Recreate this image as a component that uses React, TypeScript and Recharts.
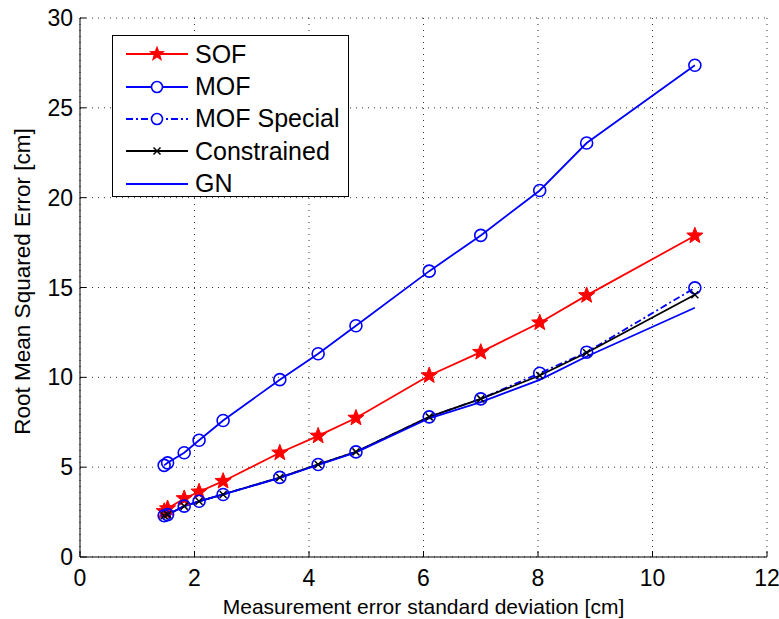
import React from "react";
import { LineChart, Line, XAxis, YAxis, CartesianGrid } from "recharts";

// measurement error std dev [cm]
const sigma = [1.47, 1.53, 1.82, 2.08, 2.5, 3.49, 4.16, 4.82, 6.1, 7.0, 8.03, 8.85, 10.74];

const sof = [2.55, 2.7, 3.26, 3.63, 4.22, 5.8, 6.74, 7.74, 10.1, 11.4, 13.04, 14.56, 17.88];
const mof = [5.1, 5.24, 5.8, 6.5, 7.6, 9.87, 11.31, 12.87, 15.91, 17.9, 20.4, 23.04, 27.37];
const mofSpecial = [2.3, 2.36, 2.83, 3.1, 3.48, 4.43, 5.15, 5.85, 7.8, 8.8, 10.23, 11.4, 14.98];
const constrained = [2.3, 2.36, 2.83, 3.1, 3.48, 4.42, 5.15, 5.85, 7.8, 8.8, 10.1, 11.37, 14.6];
const gn = [2.3, 2.36, 2.83, 3.1, 3.48, 4.4, 5.12, 5.82, 7.72, 8.62, 9.86, 11.16, 13.87];

const xTicks = [0, 2, 4, 6, 8, 10, 12];
const yTicks = [0, 5, 10, 15, 20, 25, 30];

const legendItems = ["SOF", "MOF", "MOF Special", "Constrained", "GN"];

const data = sigma.map((x, i) => ({
  x,
  sof: sof[i],
  mof: mof[i],
  mofSpecial: mofSpecial[i],
  constrained: constrained[i],
  gn: gn[i],
}));

const FONT = "'Liberation Sans', Arial, sans-serif";

const starPath = (cx: number, cy: number, R: number) => {
  const r = R * 0.42;
  let d = "";
  for (let k = 0; k < 10; k++) {
    const rad = k % 2 === 0 ? R : r;
    const a = -Math.PI / 2 + (k * Math.PI) / 5;
    d += (k === 0 ? "M" : "L") + (cx + rad * Math.cos(a)).toFixed(2) + "," + (cy + rad * Math.sin(a)).toFixed(2);
  }
  return d + "Z";
};

const Star = (props: any) => {
  const { cx, cy, index } = props;
  return <path key={"s" + index} d={starPath(cx, cy, 8.5)} fill="#ff0000" stroke="#ff0000" strokeWidth={1} />;
};

const Circ = (props: any) => {
  const { cx, cy, index } = props;
  return <circle key={"c" + index} cx={cx} cy={cy} r={6} fill="none" stroke="#0000ff" strokeWidth={1.6} />;
};

const Cross = (props: any) => {
  const { cx, cy, index } = props;
  const s = 3.5;
  return (
    <path
      key={"x" + index}
      d={`M${cx - s},${cy - s}L${cx + s},${cy + s}M${cx - s},${cy + s}L${cx + s},${cy - s}`}
      stroke="#000"
      strokeWidth={1.5}
    />
  );
};

const LegendMarker = ({ name }: { name: string }) => {
  const lineProps: any = { x1: 2, x2: 64, y1: 10, y2: 10, strokeWidth: 1.8 };
  if (name === "SOF")
    return (
      <svg width={66} height={20}>
        <line {...lineProps} stroke="#ff0000" />
        <path d={starPath(33, 10, 8.5)} fill="#ff0000" />
      </svg>
    );
  if (name === "MOF")
    return (
      <svg width={66} height={20}>
        <line {...lineProps} stroke="#0000ff" />
        <circle cx={33} cy={10} r={5.5} fill="#fff" stroke="#0000ff" strokeWidth={1.6} />
      </svg>
    );
  if (name === "MOF Special")
    return (
      <svg width={66} height={20}>
        <line {...lineProps} stroke="#0000ff" strokeDasharray="7 3 2 3" />
        <circle cx={33} cy={10} r={5.5} fill="#fff" stroke="#0000ff" strokeWidth={1.6} />
      </svg>
    );
  if (name === "Constrained")
    return (
      <svg width={66} height={20}>
        <line {...lineProps} stroke="#000" />
        <path d="M29.5,6.5L36.5,13.5M29.5,13.5L36.5,6.5" stroke="#000" strokeWidth={1.5} />
      </svg>
    );
  return (
    <svg width={66} height={20}>
      <line {...lineProps} stroke="#0000ff" />
    </svg>
  );
};

export default function App() {
  return (
    <div style={{ position: "absolute", left: 0, top: 0, width: 779, height: 619, background: "#fff", fontFamily: FONT }}>
      <LineChart width={779} height={619} data={data} margin={{ top: 18, right: 12, bottom: 22, left: 20 }}>
        <CartesianGrid stroke="#333" strokeDasharray="1 5" />
        <XAxis
          dataKey="x"
          type="number"
          domain={[0, 12]}
          ticks={xTicks}
          height={40}
          tickSize={-6}
          tickMargin={19}
          axisLine={{ stroke: "#000" }}
          tickLine={{ stroke: "#000" }}
          tick={{ fill: "#000", fontSize: 23, fontFamily: FONT }}
          label={{
            value: "Measurement error standard deviation [cm]",
            position: "insideBottom",
            offset: -17,
            fill: "#000",
            fontSize: 21,
            fontFamily: FONT,
          }}
        />
        <XAxis
          xAxisId="top"
          orientation="top"
          type="number"
          domain={[0, 12]}
          ticks={xTicks}
          height={0}
          tickSize={-6}
          axisLine={{ stroke: "#000" }}
          tickLine={{ stroke: "#000" }}
          tickFormatter={() => ""}
        />
        <YAxis
          type="number"
          domain={[0, 30]}
          ticks={yTicks}
          width={60}
          tickSize={-6}
          tickMargin={13}
          axisLine={{ stroke: "#000" }}
          tickLine={{ stroke: "#000" }}
          tick={{ fill: "#000", fontSize: 23, fontFamily: FONT }}
          label={{
            value: "Root Mean Squared Error [cm]",
            angle: -90,
            position: "insideLeft",
            offset: 2,
            dy: -6,
            style: { textAnchor: "middle" },
            fill: "#000",
            fontSize: 22.5,
            fontFamily: FONT,
          }}
        />
        <YAxis
          yAxisId="right"
          orientation="right"
          type="number"
          domain={[0, 30]}
          ticks={yTicks}
          width={0}
          tickSize={-6}
          axisLine={{ stroke: "#000" }}
          tickLine={{ stroke: "#000" }}
          tickFormatter={() => ""}
        />
        <Line dataKey="sof" stroke="#ff0000" strokeWidth={1.8} dot={Star} activeDot={false} isAnimationActive={false} />
        <Line dataKey="mof" stroke="#0000ff" strokeWidth={1.8} dot={Circ} activeDot={false} isAnimationActive={false} />
        <Line
          dataKey="mofSpecial"
          stroke="#0000ff"
          strokeWidth={1.8}
          strokeDasharray="7 3 2 3"
          dot={Circ}
          activeDot={false}
          isAnimationActive={false}
        />
        <Line dataKey="constrained" stroke="#000" strokeWidth={1.8} dot={Cross} activeDot={false} isAnimationActive={false} />
        <Line dataKey="gn" stroke="#0000ff" strokeWidth={1.8} dot={false} activeDot={false} isAnimationActive={false} />
      </LineChart>
      <div
        style={{
          position: "absolute",
          left: 112,
          top: 35,
          width: 237,
          height: 162,
          border: "1.2px solid #000",
          background: "#fff",
          boxSizing: "border-box",
          paddingTop: 2,
        }}
      >
        {legendItems.map((name) => (
          <div key={name} style={{ display: "flex", alignItems: "center", height: 32.4 }}>
            <div style={{ marginLeft: 11, width: 66, height: 20 }}>
              <LegendMarker name={name} />
            </div>
            <span style={{ marginLeft: 5, fontSize: 25, color: "#000", lineHeight: "25px" }}>{name}</span>
          </div>
        ))}
      </div>
    </div>
  );
}
